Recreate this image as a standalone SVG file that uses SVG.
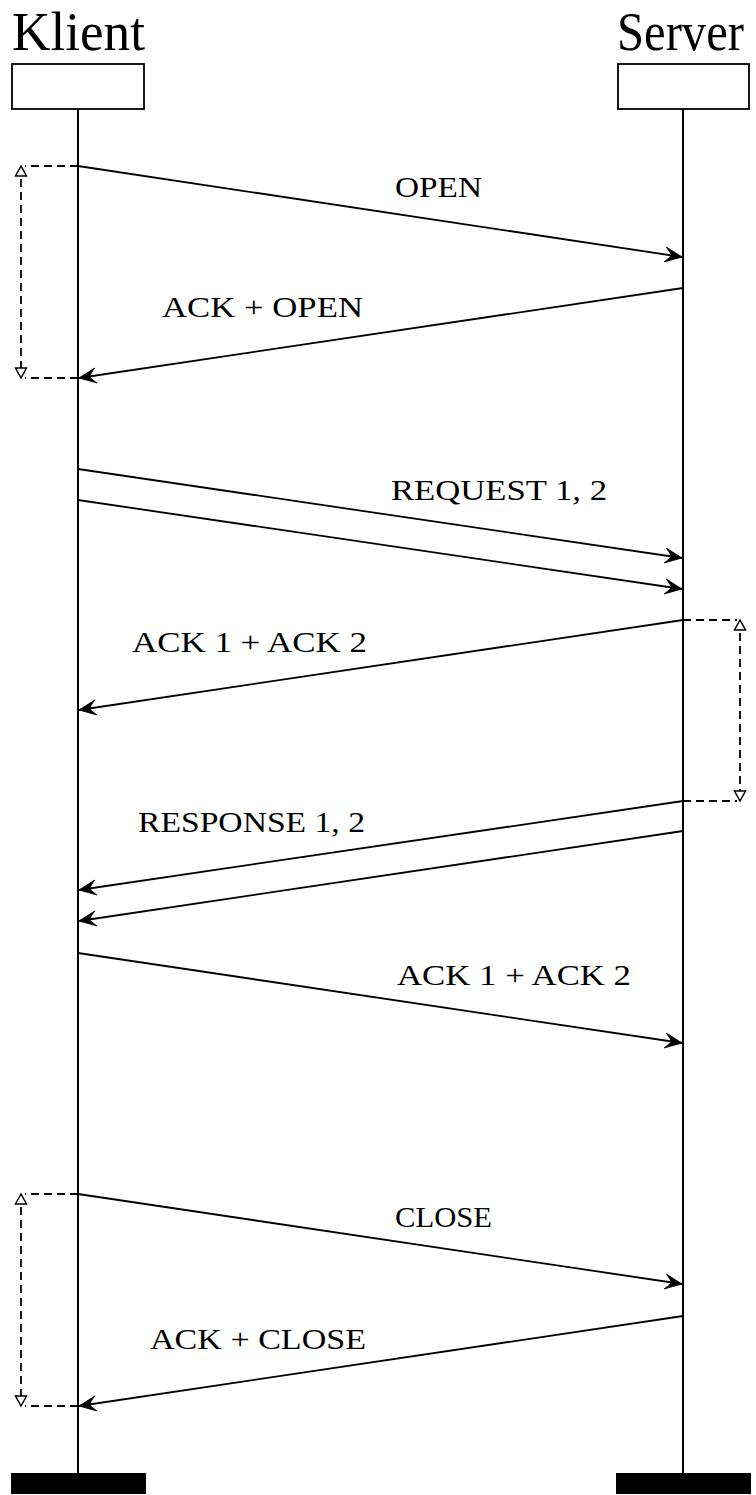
<svg xmlns="http://www.w3.org/2000/svg" width="756" height="1495" viewBox="0 0 756 1495">
<style>
.t{font-family:"Liberation Serif","DejaVu Serif",serif;fill:#000}
.title{font-size:55px}
.lbl{font-size:30px}
.life{stroke:#000;stroke-width:2;fill:none}
.box{fill:#fff;stroke:#000;stroke-width:1.8}
.bar{fill:#000}
.msg{stroke:#000;stroke-width:1.8;fill:none;marker-end:url(#ah)}
.dash{stroke:#000;stroke-width:1.8;fill:none;stroke-dasharray:8 5}
.span{stroke:#000;stroke-width:1.8;fill:none;stroke-dasharray:8 5;marker-start:url(#tri);marker-end:url(#tri)}
</style>
<defs>
<marker id="ah" viewBox="-20 -10 24 20" markerWidth="24" markerHeight="20" refX="0" refY="0" orient="auto" markerUnits="userSpaceOnUse">
<path d="M0,0 L-17,-7.5 Q-11,-1.5 -11,0 Q-11,1.5 -17,7.5 Z" fill="#000" stroke="#000" stroke-width="0.8" stroke-linejoin="miter"/>
</marker>
<marker id="tri" viewBox="-13 -8 16 16" markerWidth="16" markerHeight="16" refX="0" refY="0" orient="auto-start-reverse" markerUnits="userSpaceOnUse">
<path d="M0,0 L-10,-5.5 L-10,5.5 Z" fill="#fff" stroke="#000" stroke-width="1.5" stroke-dasharray="none"/>
</marker>
</defs>
<rect width="756" height="1495" fill="#fff"/>

<g id="klient">
<text class="t title" x="12" y="50" textLength="133" lengthAdjust="spacingAndGlyphs">Klient</text>
<line class="life" x1="78" y1="109" x2="78" y2="1474"/>
<rect class="box" x="12" y="64" width="132" height="45"/>
<rect class="bar" x="11" y="1473" width="135" height="21"/>
</g>

<g id="server">
<text class="t title" x="617" y="50" textLength="127" lengthAdjust="spacingAndGlyphs">Server</text>
<line class="life" x1="683" y1="109" x2="683" y2="1474"/>
<rect class="box" x="618" y="64" width="131" height="45"/>
<rect class="bar" x="616" y="1473" width="135" height="21"/>
</g>

<g id="connectors">
<line class="msg" x1="78" y1="166" x2="682" y2="257"/>
<line class="msg" x1="683" y1="288" x2="79" y2="378"/>
<line class="msg" x1="78" y1="469" x2="682" y2="558"/>
<line class="msg" x1="78" y1="500" x2="682" y2="589"/>
<line class="msg" x1="683" y1="620" x2="79" y2="710"/>
<line class="msg" x1="683" y1="801" x2="79" y2="890"/>
<line class="msg" x1="683" y1="831" x2="79" y2="921"/>
<line class="msg" x1="78" y1="953" x2="682" y2="1043"/>
<line class="msg" x1="78" y1="1194" x2="682" y2="1284"/>
<line class="msg" x1="683" y1="1316" x2="79" y2="1406"/>

<path class="dash" d="M78,166 H25 M78,378 H25"/>
<line class="span" x1="21" y1="166" x2="21" y2="378"/>
<path class="dash" d="M683,620 H737 M683,801 H737"/>
<line class="span" x1="740" y1="620" x2="740" y2="801"/>
<path class="dash" d="M78,1194 H25 M78,1406 H25"/>
<line class="span" x1="21" y1="1194" x2="21" y2="1406"/>
</g>

<g id="labels">
<text class="t lbl" x="395" y="197" textLength="87" lengthAdjust="spacingAndGlyphs">OPEN</text>
<text class="t lbl" x="162" y="317" textLength="201" lengthAdjust="spacingAndGlyphs">ACK + OPEN</text>
<text class="t lbl" x="391" y="500" textLength="216" lengthAdjust="spacingAndGlyphs">REQUEST 1, 2</text>
<text class="t lbl" x="132" y="652" textLength="235" lengthAdjust="spacingAndGlyphs">ACK 1 + ACK 2</text>
<text class="t lbl" x="138" y="832" textLength="227" lengthAdjust="spacingAndGlyphs">RESPONSE 1, 2</text>
<text class="t lbl" x="397" y="985" textLength="234" lengthAdjust="spacingAndGlyphs">ACK 1 + ACK 2</text>
<text class="t lbl" x="395" y="1227" textLength="97" lengthAdjust="spacingAndGlyphs">CLOSE</text>
<text class="t lbl" x="150" y="1349" textLength="216" lengthAdjust="spacingAndGlyphs">ACK + CLOSE</text>
</g>
</svg>
